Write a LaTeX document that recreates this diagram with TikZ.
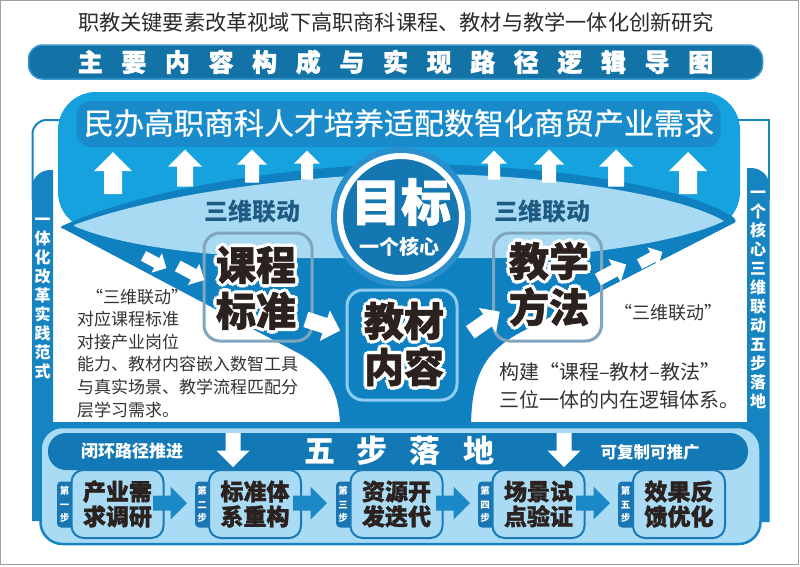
\documentclass[tikz,border=0pt]{standalone}
\usepackage{fontspec}
\setmainfont{Noto Sans CJK SC}
\newfontfamily\hei{Noto Sans CJK SC}
\newfontfamily\heimed[FakeBold=0.6]{Noto Sans CJK SC}
\newfontfamily\heavy[BoldFeatures={FakeBold=1.4}]{Noto Sans CJK SC}
\definecolor{cyanbox}{HTML}{16A2DF}
\definecolor{band}{HTML}{0F81C0}
\definecolor{lens}{HTML}{A8DAF4}
\definecolor{frameblue}{HTML}{1784C2}
\definecolor{ringblue}{HTML}{2A8FCD}
\definecolor{circfill}{HTML}{1577B1}
\definecolor{navy}{HTML}{1F5B80}
\definecolor{banner}{HTML}{1373A7}
\definecolor{bannerrim}{HTML}{3A98CC}
\definecolor{strip}{HTML}{1A8BCA}
\definecolor{boxgray}{HTML}{7FA6BE}
\definecolor{boxlight}{HTML}{8ECDF0}
\definecolor{ink}{HTML}{2B2220}
\definecolor{stepbg}{HTML}{A9DBF4}
\definecolor{stepline}{HTML}{1A7AB6}
\definecolor{tabblue}{HTML}{1A76B2}
\definecolor{bannerb}{HTML}{1279B6}
\definecolor{textgray}{HTML}{333333}
\definecolor{titleink}{HTML}{2A2A2A}
\definecolor{bordergray}{HTML}{A0A0A0}
\definecolor{steparrow}{HTML}{1B89C8}
\newcommand\bsp{\hspace{18.6pt}}
\newcommand\wsp{\hspace{22pt}}
\newcommand\boxfont{\heavy\bfseries\fontsize{40}{46}\selectfont}
% block arrow: name, x, y, angle, length, head width, shaft width, colour
\newcommand\blockarrow[8]{%
  \coordinate (#1) at (#2,#3);
  \fill[#8, shift={(#2,#3)}, rotate=#4]
    ({-#5/2},{-#7/2}) -- ({#5/2-#6/2},{-#7/2}) -- ({#5/2-#6/2},{-#6/2}) --
    ({#5/2},0) -- ({#5/2-#6/2},{#6/2}) -- ({#5/2-#6/2},{#7/2}) --
    ({-#5/2},{#7/2}) -- cycle;}
% text with white halo: name, x, y, text
\newcommand\halotxt[4]{%
  \foreach \a [count=\k] in {0,45,...,315}{%
    \node[font=\boxfont, text=white, align=center, inner sep=0pt,
      xshift={3.4pt*cos(\a)}, yshift={3.4pt*sin(\a)}] (#1-h\k) at (#2,#3) {#4};}
  \node[font=\boxfont, text=ink, align=center, inner sep=0pt] (#1) at (#2,#3) {#4};}
\tikzset{
  stepbox/.style={draw=stepline, fill=stepbg, line width=2pt, rounded corners=12pt,
    minimum width=92pt, minimum height=68pt, inner sep=0pt,
    font=\heavy\bfseries\fontsize{23}{25}\selectfont, text=ink, align=center},
  steptab/.style={fill=tabblue, rounded corners=4pt, minimum width=23pt,
    minimum height=46pt, inner sep=0pt},
  tabtext/.style={font=\hei\bfseries\fontsize{9.5}{13.5}\selectfont, text=white,
    align=center, inner sep=0pt},
  vtext/.style={font=\hei\bfseries\fontsize{16}{19}\selectfont, text=white,
    align=center, inner sep=0pt},
  bigbox/.style={line width=3pt, rounded corners=16pt, minimum width=108pt,
    minimum height=108pt, inner sep=0pt},
  linklabel/.style={font=\hei\bfseries\fontsize{24}{24}\selectfont, text=navy, inner sep=0pt},
  bodytext/.style={font=\hei\fontsize{17}{22.6}\selectfont, text=textgray, inner sep=0pt, align=left},
}
\begin{document}
\begin{tikzpicture}[x=1pt,y=-1pt]
\useasboundingbox (0,0) rectangle (800,566);
\fill[white] (0,0) rectangle (800,566);
\draw[bordergray, line width=1.2pt] (0.8,0.8) rectangle (798.4,564.6);

% title and banner
\node[font=\hei\fontsize{21.2}{21.2}\selectfont, text=titleink, inner sep=0pt] (title) at (396,22)
  {职教关键要素改革视域下高职商科课程、教材与教学一体化创新研究};
\node[fill=banner, draw=bannerrim, line width=1.5pt, rounded corners=14pt,
  minimum width=734pt, minimum height=34pt, inner sep=0pt, text=white,
  font=\heavy\bfseries\fontsize{25}{25}\selectfont] (banner) at (395.5,62)
  {主\bsp 要\bsp 内\bsp 容\bsp 构\bsp 成\bsp 与\bsp 实\bsp 现\bsp 路\bsp 径\bsp 逻\bsp 辑\bsp 导\bsp 图};

% thin frame lines
\draw[frameblue, line width=2pt, rounded corners=14pt] (64,120) -- (32.5,120) -- (32.5,200);
\draw[frameblue, line width=2pt] (737,120) -- (768.5,120) -- (768.5,200);

% dark frame (side bars and bottom)
\fill[frameblue] (32,521) -- (32,188) .. controls (32,178) and (40,170) .. (50,170)
  -- (53,170) -- (53,422) -- (747,422) -- (747,168) -- (751,168)
  .. controls (761,168) and (769.5,176) .. (769.5,186) -- (769.5,522) -- cycle;

% cyan top area
\fill[cyanbox, rounded corners=38pt] (58,92) rectangle (740,230);
\node[fill=strip, rounded corners=14pt, minimum width=644pt, minimum height=46pt, inner sep=0pt]
  (strip) at (398.5,124) {};
\node[font=\heimed\fontsize{30}{30}\selectfont, text=white, inner sep=0pt] (need) at (399,123)
  {民办高职商科人才培养适配数智化商贸产业需求};

% funnel
\fill[band] (62,226) .. controls (150,186) and (300,166) .. (400,164)
  .. controls (520,163) and (680,182) .. (733,217)
  .. controls (737,220) and (736,223) .. (732,224)
  -- (525,330) .. controls (485,350) and (472,375) .. (471,424)
  -- (340,424) .. controls (339,395) and (330,372) .. (300,354)
  -- (64,229) .. controls (60,228) and (60,227) .. (62,226) -- cycle;
% lens
\fill[lens] (74,225) .. controls (160,193) and (300,176) .. (400,174)
  .. controls (520,172) and (670,190) .. (724,221)
  .. controls (690,238) and (600,256) .. (500,258)
  -- (300,258) .. controls (190,257) and (110,242) .. (74,226) -- cycle;

% up arrows
\blockarrow{u1}{113}{173}{90}{42}{38}{18}{white}
\blockarrow{u2}{185}{168}{90}{37}{34}{16}{white}
\blockarrow{u3}{252}{166}{90}{33}{30}{14}{white}
\blockarrow{u4}{307}{165}{90}{29}{26}{12}{white}
\blockarrow{u5}{494}{165}{90}{29}{26}{12}{white}
\blockarrow{u6}{549}{166}{90}{33}{30}{14}{white}
\blockarrow{u7}{616}{168}{90}{37}{34}{16}{white}
\blockarrow{u8}{688}{173}{90}{42}{38}{18}{white}

% goal circle
\node[circle, fill=ringblue, minimum size=140pt, inner sep=0pt] (goalring) at (401,217) {};
\node[circle, fill=circfill, draw=white, line width=6pt, minimum size=122pt, inner sep=0pt]
  (goal) at (401,217) {};
\node[font=\heavy\bfseries\fontsize{50}{50}\selectfont, text=white, inner sep=0pt] (goalt) at (401,202) {目标};
\node[font=\hei\bfseries\fontsize{20}{20}\selectfont, text=white, inner sep=0pt] (core) at (399,247) {一个核心};

% link labels
\node[linklabel] (linkL) at (252,211) {三维联动};
\node[linklabel] (linkR) at (542,211) {三维联动};

% three boxes
\node[bigbox, draw=boxgray] (kc) at (258,287) {};
\node[bigbox, draw=boxlight, minimum width=110pt, minimum height=110pt] (jc) at (402,345) {};
\node[bigbox, draw=boxgray] (jx) at (547.5,287) {};
\halotxt{kct}{256}{288}{课程\\标准}
\halotxt{jct}{404}{344}{教材\\内容}
\halotxt{jxt}{549}{284}{教学\\方法}

% band arrows
\blockarrow{bA}{155}{262}{-28}{26}{22}{11}{white}
\blockarrow{bB}{191}{273}{-28}{30}{24}{12}{white}
\blockarrow{bC}{612}{272}{28}{32}{26}{13}{white}
\blockarrow{bD}{651}{258}{28}{26}{22}{11}{white}
% main arrows
\blockarrow{m1}{323}{325}{-18}{36}{32}{16}{white}
\blockarrow{m2}{485}{322}{35}{36}{30}{15}{white}

% side texts
\node[bodytext, anchor=north west] (ltext) at (77,288.5)
  {\hspace*{9pt}“三维联动”\\对应课程标准\\对接产业岗位\\能力、教材内容嵌入数智工具\\与真实场景、教学流程匹配分\\层学习需求。};
\node[font=\hei\fontsize{18}{18}\selectfont, text=textgray, inner sep=0pt] (rquote) at (668,313) {“三维联动”};
\node[font=\hei\fontsize{20}{28}\selectfont, text=textgray, inner sep=0pt, align=left, anchor=north west]
  (rtext) at (499,362) {构建“课程–教材–教法”\\三位一体的内在逻辑体系。};

% vertical texts
\node[vtext] (vleft) at (42.5,298) {一\\体\\化\\改\\革\\实\\践\\范\\式};
\node[vtext] (vright) at (758,300) {一\\个\\核\\心\\三\\维\\联\\动\\五\\步\\落\\地};

% bottom section
\node[draw=frameblue, fill=stepbg, line width=2.5pt, rounded corners=22pt,
  minimum width=720pt, minimum height=117pt, inner sep=0pt] (bottom) at (400.5,485.5) {};
\node[fill=bannerb, rounded corners=18pt, minimum width=700pt, minimum height=37pt, inner sep=0pt]
  (bbanner) at (398,451.5) {};
\node[font=\hei\bfseries\fontsize{17}{17}\selectfont, text=white, inner sep=0pt] (loop) at (132,451) {闭环路径推进};
\node[font=\hei\bfseries\fontsize{31}{31}\selectfont, text=white, inner sep=0pt] (five) at (399,451) {五\wsp 步\wsp 落\wsp 地};
\node[font=\hei\bfseries\fontsize{16.5}{16.5}\selectfont, text=white, inner sep=0pt] (copy) at (650,452) {可复制可推广};
\blockarrow{d1}{233}{450}{-90}{34}{33}{15}{white}
\blockarrow{d2}{564}{450}{-90}{34}{33}{15}{white}

% steps
\node[steptab] (t1) at (68.5,504.5) {};
\node[steptab] (t2) at (206.5,504.5) {};
\node[steptab] (t3) at (347.5,504.5) {};
\node[steptab] (t4) at (489.5,504.5) {};
\node[steptab] (t5) at (629.5,504.5) {};
\node[stepbox] (s1) at (117.5,504) {产业需\\求调研};
\node[stepbox] (s2) at (255,504) {标准体\\系重构};
\node[stepbox] (s3) at (396.5,504) {资源开\\发迭代};
\node[stepbox] (s4) at (538.5,504) {场景试\\点验证};
\node[stepbox] (s5) at (679,504) {效果反\\馈优化};
\node[tabtext] (tt1) at (64.5,504.5) {第\\一\\步};
\node[tabtext] (tt2) at (202,504.5) {第\\二\\步};
\node[tabtext] (tt3) at (343,504.5) {第\\三\\步};
\node[tabtext] (tt4) at (485,504.5) {第\\四\\步};
\node[tabtext] (tt5) at (625.5,504.5) {第\\五\\步};
\blockarrow{sa1}{170}{503}{0}{34}{33}{15}{steparrow}
\blockarrow{sa2}{310}{503}{0}{34}{33}{15}{steparrow}
\blockarrow{sa3}{453}{503}{0}{34}{33}{15}{steparrow}
\blockarrow{sa4}{593}{503}{0}{34}{33}{15}{steparrow}
\end{tikzpicture}
\end{document}
